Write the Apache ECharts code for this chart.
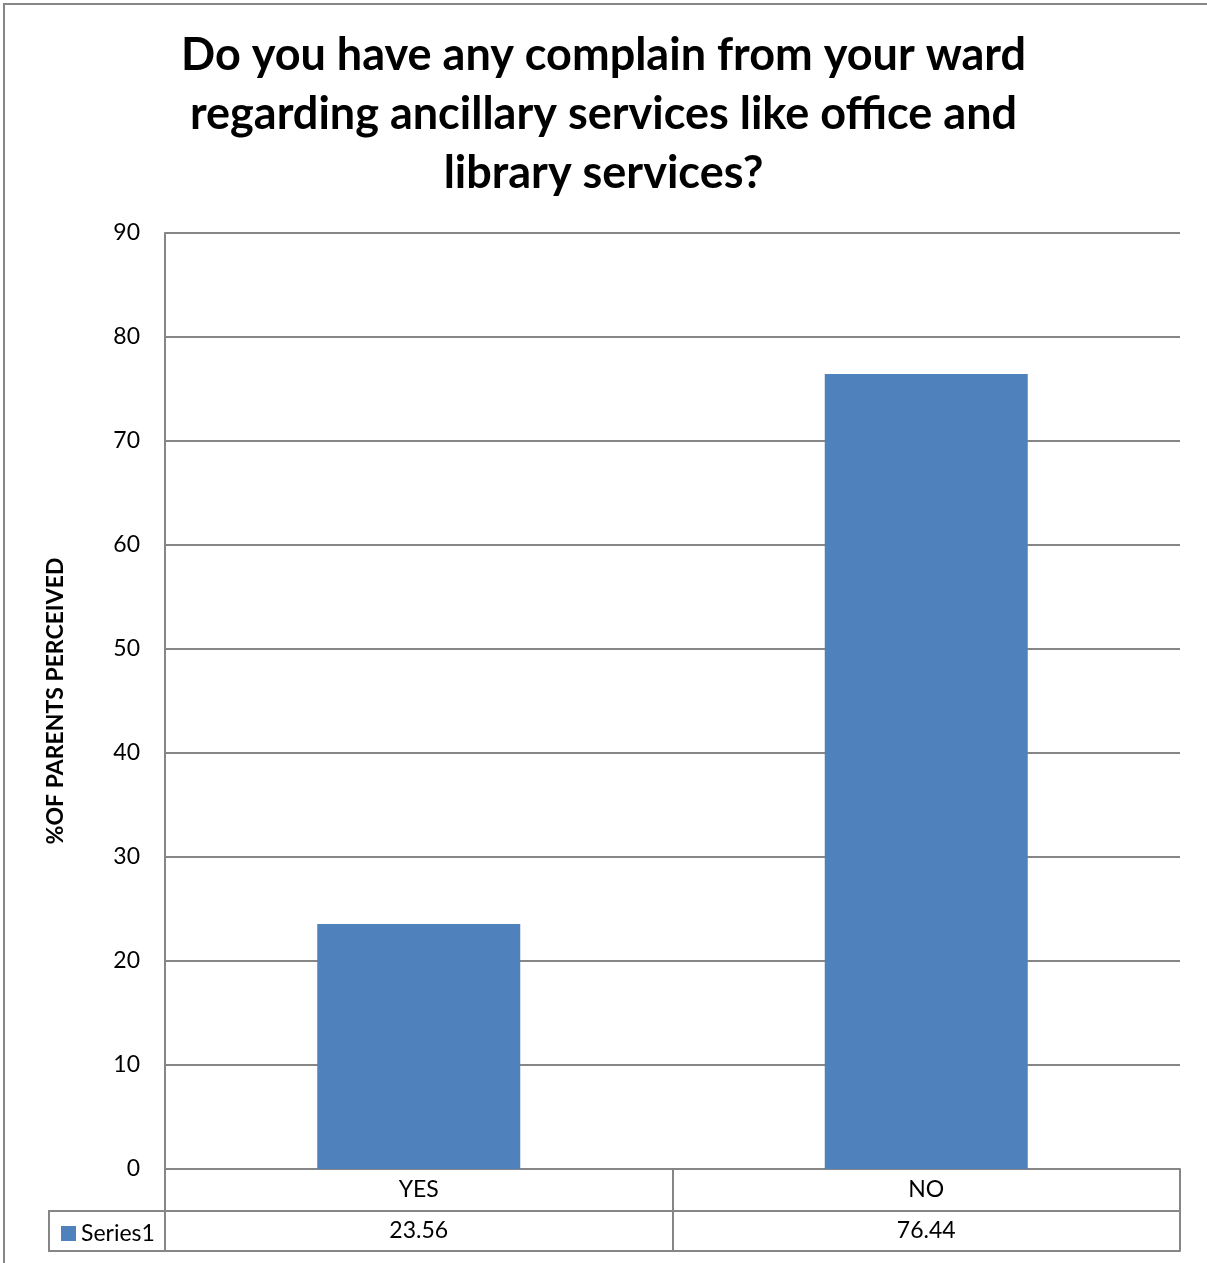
<!DOCTYPE html>
<html>
<head>
<meta charset="utf-8">
<script src="https://cdn.jsdelivr.net/npm/echarts@6/dist/echarts.min.js"></script>
<style>html,body{margin:0;padding:0;background:#fff}#c{width:1207px;height:1263px}</style>
</head>
<body>
<div id="c"></div>
<script>
var titleText = 'Do you have any complain from your ward\nregarding ancillary services like office and\nlibrary services?';
var categories = ['YES', 'NO'];
var seriesName = 'Series1';
var values = [23.56, 76.44];
var yTicks = { min: 0, max: 90, interval: 10 };
var yAxisName = '%OF PARENTS PERCEIVED';

var FONT = 'Lato, "Open Sans", sans-serif';
var GRAY = '#868686';
var chart = echarts.init(document.getElementById('c'), null, { renderer: 'canvas' });
chart.setOption({
  animation: false,
  backgroundColor: '#fff',
  title: {
    text: titleText,
    left: 'center',
    top: 21,
    textStyle: { fontFamily: FONT, fontWeight: 'bold', fontSize: 45, lineHeight: 59, color: '#000', align: 'center' }
  },
  legend: {
    data: [seriesName],
    left: 56,
    top: 1217,
    icon: 'rect',
    itemWidth: 15,
    itemHeight: 15,
    itemGap: 4,
    textStyle: { fontFamily: FONT, fontSize: 23, color: '#000', padding: [0, 0, 0, 0] }
  },
  grid: { left: 165, right: 27, top: 233, bottom: 94, containLabel: false },
  xAxis: [
    {
      type: 'category', data: categories, position: 'bottom',
      axisLine: { show: true, lineStyle: { color: GRAY, width: 2 } },
      axisTick: { show: true, length: 82, alignWithLabel: false, lineStyle: { color: GRAY, width: 2 } },
      axisLabel: { fontFamily: FONT, fontSize: 23, color: '#000', margin: 9 }
    },
    {
      type: 'category', data: values.map(function (v) { return v.toFixed(2); }), position: 'bottom', offset: 42,
      axisLine: { show: true, lineStyle: { color: GRAY, width: 2 } },
      axisTick: { show: false },
      axisLabel: { fontFamily: FONT, fontSize: 23, color: '#000', margin: 8 }
    },
    {
      type: 'category', data: categories, position: 'bottom', offset: 82,
      axisLine: { show: true, lineStyle: { color: GRAY, width: 2 } },
      axisTick: { show: false },
      axisLabel: { show: false }
    }
  ],
  yAxis: {
    type: 'value', min: yTicks.min, max: yTicks.max, interval: yTicks.interval,
    name: yAxisName, nameLocation: 'middle', nameGap: 98, nameRotate: 90,
    nameTextStyle: { fontFamily: FONT, fontWeight: 'bold', fontSize: 23, color: '#000' },
    axisLine: { show: true, lineStyle: { color: GRAY, width: 2 } },
    axisTick: { show: false },
    axisLabel: { fontFamily: FONT, fontSize: 23, color: '#000', margin: 25 },
    splitLine: { show: true, lineStyle: { color: GRAY, width: 2 } }
  },
  series: [{
    name: seriesName, type: 'bar', data: values, xAxisIndex: 0,
    barCategoryGap: '60%',
    itemStyle: { color: '#4F81BD' }
  }],
  graphic: [
    { type: 'rect', shape: { x: 4, y: 4, width: 1250, height: 1300 }, style: { fill: 'none', stroke: GRAY, lineWidth: 2 }, silent: true },
    { type: 'line', shape: { x1: 49, y1: 1211, x2: 165, y2: 1211 }, style: { stroke: GRAY, lineWidth: 2 } },
    { type: 'line', shape: { x1: 49, y1: 1251, x2: 165, y2: 1251 }, style: { stroke: GRAY, lineWidth: 2 } },
    { type: 'line', shape: { x1: 49, y1: 1210, x2: 49, y2: 1252 }, style: { stroke: GRAY, lineWidth: 2 } }
  ]
});
</script>
</body>
</html>
